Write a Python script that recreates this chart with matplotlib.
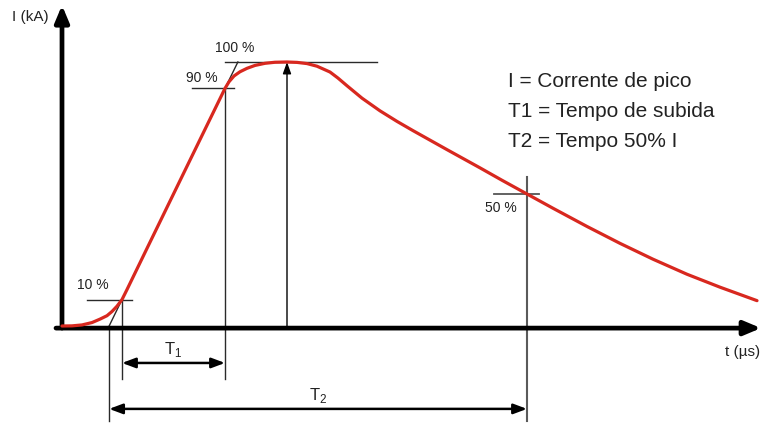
import numpy as np
import matplotlib.pyplot as plt

plt.rcParams['font.family'] = ['Liberation Sans', 'DejaVu Sans']
plt.rcParams['mathtext.fontset'] = 'custom'
plt.rcParams['mathtext.rm'] = 'Liberation Sans'

# Forma de onda do impulso de corrente (tempo em us, corrente em % do pico)
t_us = [0, 1.0, 2.0, 3.0, 3.8, 4.5, 5.0, 5.5, 6.0, 6.5, 8.5, 11.15, 13.8, 16.3,
        16.7, 17.2, 17.8, 18.5, 19.3, 20.3, 21.3, 22.5, 23.5, 24.5, 25.5, 26.8,
        27.6, 28.5, 30.0, 31.8, 33.5, 35.1, 38.5, 41.8, 44.0, 46.5, 49.1, 52.5,
        55.8, 59.1, 62.5, 65.8, 69.5]
i_pct = [0, 0.05, 0.4, 1.3, 2.6, 3.9, 5.5, 7.5, 10, 13.8, 29.4, 50, 70.6, 90,
         92.5, 94.7, 96.3, 97.6, 98.7, 99.5, 99.9, 100, 99.85, 99.4, 98.4, 96.2,
         93.9, 91.0, 86.3, 81.5, 77.5, 74.0, 66.8, 59.9, 55.2, 50, 44.6, 37.7,
         31.3, 25.3, 19.6, 14.7, 9.6]

niveis = [10, 90, 100, 50]
legenda = ['I = Corrente de pico', 'T1 = Tempo de subida', 'T2 = Tempo 50% I']

t = np.array(t_us)
i = np.array(i_pct)
k = int(np.argmax(i))
t_pico = t[k]
t10 = np.interp(10, i[:k + 1], t[:k + 1])
t90 = np.interp(90, i[:k + 1], t[:k + 1])
t50 = np.interp(50, i[k:][::-1], t[k:][::-1])

# reta pelos pontos de 10 % e 90 %
a = (90 - 10) / (t90 - t10)
t0 = t10 - 10 / a
t100 = t10 + 90 / a

fig = plt.figure(figsize=(7.63, 4.27), dpi=100)
ax = fig.add_axes([0, 0, 1, 1])
ax.set_xlim(-6.2, 70.1)
ax.set_ylim(-37.88, 123.86)
ax.axis('off')

cinza = '#2a2a2a'
fino = 1.0

# eixos com setas
cabeca = '-|>,head_length=1.0,head_width=0.42'
ax.annotate('', xy=(0, 121.5), xytext=(0, -0.8),
            arrowprops=dict(arrowstyle=cabeca, lw=3.4, color='black',
                            shrinkA=0, shrinkB=0))
ax.annotate('', xy=(69.9, -0.8), xytext=(-0.6, -0.8),
            arrowprops=dict(arrowstyle=cabeca, lw=3.4, color='black',
                            shrinkA=0, shrinkB=0))
ax.text(-5.0, 117.4, 'I (kA)', fontsize=11, va='center', ha='left', color='#222')
ax.text(68.1, -9.6, 't (µs)', fontsize=11, va='center', ha='center', color='#222')

# linhas de referência
ax.plot([t0, t100], [0, 100], color=cinza, lw=fino)
ax.plot([2.5, 7.0], [10, 10], color=cinza, lw=fino)
ax.plot([13.0, 17.2], [90, 90], color=cinza, lw=fino)
ax.plot([16.3, 31.5], [100, 100], color=cinza, lw=fino)
ax.plot([43.2, 47.7], [50, 50], color='#555555', lw=1.3)

ax.plot([t0, t0], [0, -36], color=cinza, lw=fino)
ax.plot([t10, t10], [10, -20], color=cinza, lw=fino)
ax.plot([t90, t90], [90, -20], color=cinza, lw=fino)
ax.plot([t50, t50], [56.4, -36], color='#5a5a5a', lw=1.5)

ax.annotate('', xy=(t_pico, 100), xytext=(t_pico, 0),
            arrowprops=dict(arrowstyle='-|>,head_length=0.7,head_width=0.25',
                            lw=fino, color='black', shrinkA=0, shrinkB=0))

# curva da corrente
ax.plot(t, i, color='#d8281f', lw=2.3, solid_capstyle='round',
        solid_joinstyle='round', zorder=5)

ax.text(3.1, 15.9, '10 %', fontsize=10, ha='center', va='center', color='#222')
ax.text(14.0, 94.3, '90 %', fontsize=10, ha='center', va='center', color='#222')
ax.text(17.3, 105.7, '100 %', fontsize=10, ha='center', va='center', color='#222')
ax.text(43.9, 45.1, '50 %', fontsize=10, ha='center', va='center', color='#222')

# T1 e T2
seta = dict(arrowstyle='<|-|>,head_length=0.8,head_width=0.3', lw=1.8,
            color='black', shrinkA=0, shrinkB=0)
ax.annotate('', xy=(t10, -14.0), xytext=(t90, -14.0), arrowprops=seta)
ax.annotate('', xy=(t0, -31.4), xytext=(t50, -31.4), arrowprops=seta)
ax.text((t10 + t90) / 2, -8.7, r'T$_\mathrm{1}$', fontsize=12, ha='center',
        va='center', color='#222')
ax.text((t0 + t50) / 2, -25.8, r'T$_\mathrm{2}$', fontsize=12, ha='center',
        va='center', color='#222')

for n, linha in enumerate(legenda):
    ax.text(44.6, 92.8 - n * 11.3, linha, fontsize=15, ha='left', va='center',
            color='#222')

fig.savefig('out.png', dpi=100)
